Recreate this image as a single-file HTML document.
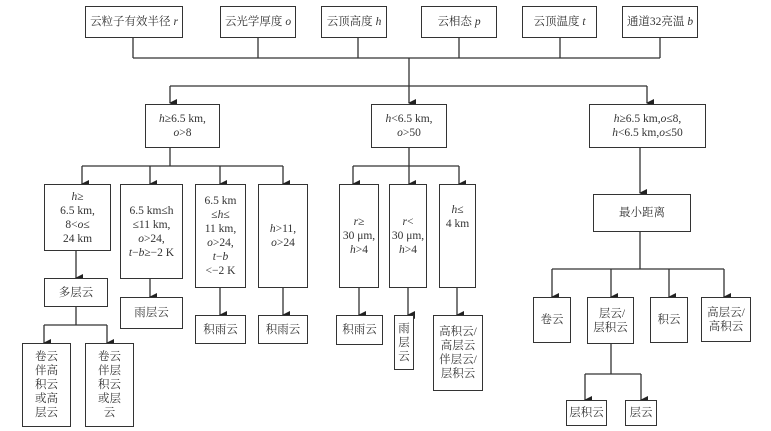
<!DOCTYPE html>
<html><head><meta charset="utf-8"><style>
html,body{margin:0;padding:0;background:#fff;}
#c{position:relative;width:771px;height:431px;overflow:hidden;font-family:"Liberation Serif","Noto Serif CJK SC",serif;color:#333;font-size:11.5px;}
.b{position:absolute;box-sizing:border-box;border:1.5px solid #333;display:flex;align-items:center;justify-content:center;text-align:center;line-height:14px;background:#fff;white-space:nowrap;}
i{font-style:italic;}
svg{position:absolute;left:0;top:0;}
</style></head><body><div id="c">
<svg width="771" height="431" viewBox="0 0 771 431">
<defs><marker id="a" markerWidth="8" markerHeight="8" refX="4" refY="7" orient="auto" markerUnits="userSpaceOnUse"><path d="M0,0 L8,0 L4,8 z" fill="#222"/></marker></defs>
<g stroke="#333" stroke-width="1.3" fill="none">
<path d="M133,37V58M258,37V58M358,37V58M459,37V58M560,37V58M660,37V58M133,58H660"/>
<path d="M409,58V86M170,86H647"/>
<path d="M170,86V103" marker-end="url(#a)"/><path d="M409,86V103" marker-end="url(#a)"/><path d="M647,86V103" marker-end="url(#a)"/>
<path d="M640,148V193" marker-end="url(#a)"/>
<path d="M170,148V166M82,166H283"/>
<path d="M82,166V184" marker-end="url(#a)"/><path d="M150,166V184" marker-end="url(#a)"/><path d="M220,166V184" marker-end="url(#a)"/><path d="M283,166V184" marker-end="url(#a)"/>
<path d="M409,148V166M353,166H459"/>
<path d="M353,166V184" marker-end="url(#a)"/><path d="M409,166V184" marker-end="url(#a)"/><path d="M459,166V184" marker-end="url(#a)"/>
<path d="M76,250V278" marker-end="url(#a)"/>
<path d="M76,306V325M44,325H107"/>
<path d="M44,325V343" marker-end="url(#a)"/><path d="M107,325V343" marker-end="url(#a)"/>
<path d="M150,278V297" marker-end="url(#a)"/>
<path d="M220,288V315" marker-end="url(#a)"/><path d="M283,288V315" marker-end="url(#a)"/>
<path d="M359,288V315" marker-end="url(#a)"/><path d="M408,288V315" marker-end="url(#a)"/><path d="M457,288V315" marker-end="url(#a)"/>
<path d="M640,232V269M552,269H724"/>
<path d="M552,269V297" marker-end="url(#a)"/><path d="M611,269V297" marker-end="url(#a)"/><path d="M669,269V297" marker-end="url(#a)"/><path d="M724,269V297" marker-end="url(#a)"/>
<path d="M611,344V374M585,374H641"/>
<path d="M585,374V400" marker-end="url(#a)"/><path d="M641,374V400" marker-end="url(#a)"/>
</g></svg>
<div class="b" style="left:85px;top:6px;width:98px;height:32px">云粒子有效半径 <i>&nbsp;r</i></div>
<div class="b" style="left:220px;top:6px;width:76px;height:32px">云光学厚度 <i>&nbsp;o</i></div>
<div class="b" style="left:321px;top:6px;width:66px;height:32px">云顶高度 <i>&nbsp;h</i></div>
<div class="b" style="left:421px;top:6px;width:76px;height:32px">云相态 <i>&nbsp;p</i></div>
<div class="b" style="left:522px;top:6px;width:75px;height:32px">云顶温度 <i>&nbsp;t</i></div>
<div class="b" style="left:622px;top:6px;width:76px;height:32px">通道32亮温 <i>&nbsp;b</i></div>
<div class="b" style="left:145px;top:104px;width:75px;height:44px"><div><i>h</i>≥6.5 km,<br><i>o</i>&gt;8</div></div>
<div class="b" style="left:371px;top:104px;width:76px;height:44px"><div><i>h</i>&lt;6.5 km,<br><i>o</i>&gt;50</div></div>
<div class="b" style="left:589px;top:104px;width:117px;height:44px"><div><i>h</i>≥6.5 km,<i>o</i>≤8,<br><i>h</i>&lt;6.5 km,<i>o</i>≤50</div></div>
<div class="b" style="left:44px;top:184px;width:67px;height:67px"><div><i>h</i>≥<br>6.5 km,<br>8&lt;<i>o</i>≤<br>24 km</div></div>
<div class="b" style="left:120px;top:184px;width:63px;height:95px;overflow:hidden"><div>6.5 km≤h<br>≤11 km,<br><i>o</i>&gt;24,<br><i>t</i>−<i>b</i>≥−2 K</div></div>
<div class="b" style="left:195px;top:184px;width:51px;height:104px"><div>6.5 km<br>≤<i>h</i>≤<br>11 km,<br><i>o</i>&gt;24,<br><i>t</i>−<i>b</i><br>&lt;−2 K</div></div>
<div class="b" style="left:258px;top:184px;width:50px;height:104px"><div><i>h</i>&gt;11,<br><i>o</i>&gt;24</div></div>
<div class="b" style="left:339px;top:184px;width:40px;height:104px;overflow:visible"><div><i>r</i>≥<br>30 μm,<br><i>h</i>&gt;4</div></div>
<div class="b" style="left:389px;top:184px;width:38px;height:104px;overflow:visible"><div><i>r</i>&lt;<br>30 μm,<br><i>h</i>&gt;4</div></div>
<div class="b" style="left:439px;top:184px;width:37px;height:104px;align-items:flex-start"><div style="margin-top:18px"><i>h</i>≤<br>4 km</div></div>
<div class="b" style="left:593px;top:194px;width:98px;height:38px">最小距离</div>
<div class="b" style="left:44px;top:278px;width:64px;height:29px">多层云</div>
<div class="b" style="left:22px;top:343px;width:49px;height:84px"><div>卷云<br>伴高<br>积云<br>或高<br>层云</div></div>
<div class="b" style="left:85px;top:343px;width:49px;height:84px"><div>卷云<br>伴层<br>积云<br>或层<br>云</div></div>
<div class="b" style="left:120px;top:297px;width:63px;height:32px">雨层云</div>
<div class="b" style="left:195px;top:315px;width:51px;height:29px">积雨云</div>
<div class="b" style="left:258px;top:315px;width:50px;height:29px">积雨云</div>
<div class="b" style="left:336px;top:315px;width:47px;height:30px">积雨云</div>
<div class="b" style="left:394px;top:315px;width:20px;height:55px"><div>雨<br>层<br>云</div></div>
<div class="b" style="left:433px;top:315px;width:50px;height:76px"><div>高积云/<br>高层云<br>伴层云/<br>层积云</div></div>
<div class="b" style="left:533px;top:297px;width:38px;height:46px">卷云</div>
<div class="b" style="left:587px;top:297px;width:47px;height:47px"><div>&nbsp;层云/<br>层积云</div></div>
<div class="b" style="left:650px;top:297px;width:38px;height:46px">积云</div>
<div class="b" style="left:701px;top:297px;width:50px;height:45px"><div>高层云/<br>高积云</div></div>
<div class="b" style="left:566px;top:400px;width:41px;height:26px">层积云</div>
<div class="b" style="left:625px;top:400px;width:32px;height:26px">层云</div>
</div></body></html>
